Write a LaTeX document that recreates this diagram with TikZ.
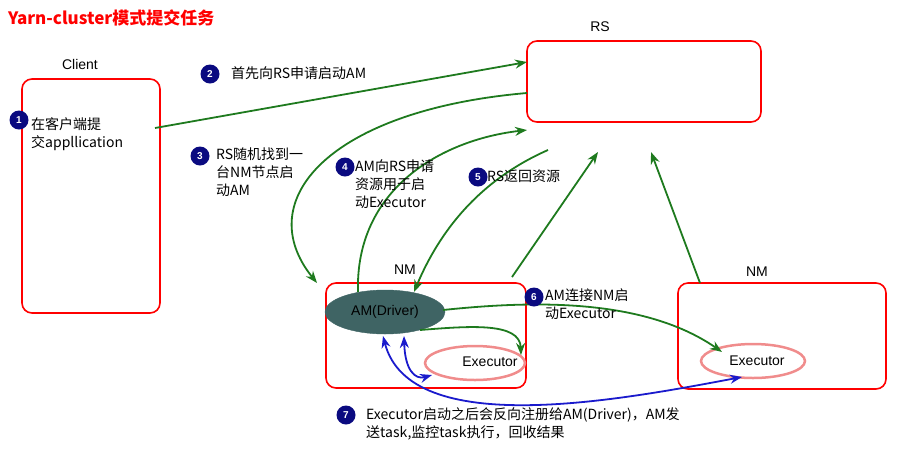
\documentclass[tikz,border=0pt]{standalone}
\usepackage{fontspec}
\setmainfont{Liberation Sans}
\newfontfamily\cjk{Noto Sans CJK SC}
\usetikzlibrary{arrows.meta,shapes.geometric}
\definecolor{gr}{HTML}{1E7A1E}
\definecolor{bl}{HTML}{1A1ACC}
\definecolor{nv}{HTML}{0A0A80}
\definecolor{am}{HTML}{3F6464}
\definecolor{pk}{HTML}{F08C8C}
\begin{document}
\begin{tikzpicture}[x=1pt,y=-1pt,
 box/.style={draw=red,line width=1.6pt,rounded corners=10pt},
 lbl/.style={font=\cjk\fontsize{14}{18}\selectfont,align=left,anchor=north west,inner sep=0},
 txt/.style={font=\fontsize{14}{16}\selectfont},
 num/.style={circle,fill=nv,text=white,font=\bfseries\fontsize{10}{10}\selectfont,minimum size=19pt,inner sep=0},
 ga/.style={draw=gr,line width=1.8pt,-{Stealth[length=12pt,width=9pt]}},
 ba/.style={draw=bl,line width=1.8pt,{Stealth[length=12pt,width=9pt]}-{Stealth[length=12pt,width=9pt]}},
 ex/.style={ellipse,draw=pk,line width=2.5pt,minimum width=100pt,minimum height=34pt}]
\useasboundingbox (0,0) rectangle (912,459);
\node[anchor=west,text=red,font=\cjk\bfseries\fontsize{17}{19}\selectfont,inner sep=0] (title) at (8,18) {Yarn-cluster模式提交任务};
\draw[box] (22,79) rectangle (160,313);
\node (client) at (91,196) [minimum width=138pt,minimum height=234pt] {};
\node[txt] (clientl) at (80,64) {Client};
\node (rs) at (644,81) [minimum width=234pt,minimum height=82pt] {};
\draw[box] (527,41) rectangle (761,122);
\node[txt] (rsl) at (600,27) {RS};
\draw[box] (326,283) rectangle (526,388);
\node[txt] (nm1l) at (405,270) {NM};
\draw[box] (678,283) rectangle (886,389);
\node[txt] (nm2l) at (757,272) {NM};
\node[ellipse,fill=am,draw=am,minimum width=120pt,minimum height=44pt,txt] (am) at (385,312) {AM(Driver)};
\node[ex] (ex1) at (475,363) {};
\node[txt] (ex1l) at (490,362) {Executor};
\node[ex,minimum width=104pt] (ex2) at (753,361) {};
\node[txt] (ex2l) at (757,361) {Executor};
\coordinate (c1) at (155,128);
\coordinate (r1) at (527,62);
\draw[ga] (c1) -- (r1);
\coordinate (r2) at (527,93);
\coordinate (n1) at (317,283);
\draw[ga] (r2) .. controls (330,110) and (250,200) .. (n1);
\coordinate (a1) at (358,292);
\coordinate (r3) at (527,130);
\draw[ga] (a1) .. controls (355,190) and (440,140) .. (r3);
\coordinate (r4) at (548,150);
\coordinate (a2) at (414,292);
\draw[ga] (r4) .. controls (480,180) and (440,230) .. (a2);
\coordinate (n1t) at (512,277);
\coordinate (r5) at (598,152);
\draw[ga] (n1t) -- (r5);
\coordinate (n2t) at (700,283);
\coordinate (r6) at (651,152);
\draw[ga] (n2t) -- (r6);
\coordinate (a3) at (443,310);
\coordinate (e2) at (722,352);
\draw[ga] (a3) .. controls (520,302) and (640,295) .. (e2);
\coordinate (a4) at (420,330);
\coordinate (e1) at (521,355);
\draw[ga] (a4) .. controls (470,326) and (520,322) .. (e1);
\coordinate (b1) at (383,336);
\coordinate (b2) at (742,377);
\draw[ba] (b1) .. controls (410,440) and (620,400) .. (b2);
\coordinate (b3) at (404,336);
\coordinate (b4) at (432,375);
\draw[ba] (b3) .. controls (405,370) and (415,380) .. (b4);
\node[num] (n1c) at (19,120) {1};
\node[lbl] (t1) at (31,117) {在客户端提\\交appllication};
\node[num] (n2c) at (210,74) {2};
\node[lbl] (t2) at (231,66) {首先向RS申请启动AM};
\node[num] (n3c) at (200,156) {3};
\node[lbl] (t3) at (216,148) {RS随机找到一\\台NM节点启\\动AM};
\node[num] (n4c) at (345,167) {4};
\node[lbl] (t4) at (355,160) {AM向RS申请\\资源用于启\\动Executor};
\node[num] (n5c) at (478,177) {5};
\node[lbl] (t5) at (487,170) {RS返回资源};
\node[num] (n6c) at (534,297) {6};
\node[lbl] (t6) at (545,289) {AM连接NM启\\动Executor};
\node[num] (n7c) at (346,415) {7};
\node[lbl] (t7) at (366,407) {Executor启动之后会反向注册给AM(Driver)，AM发\\送task,监控task执行，回收结果};
\end{tikzpicture}
\end{document}
